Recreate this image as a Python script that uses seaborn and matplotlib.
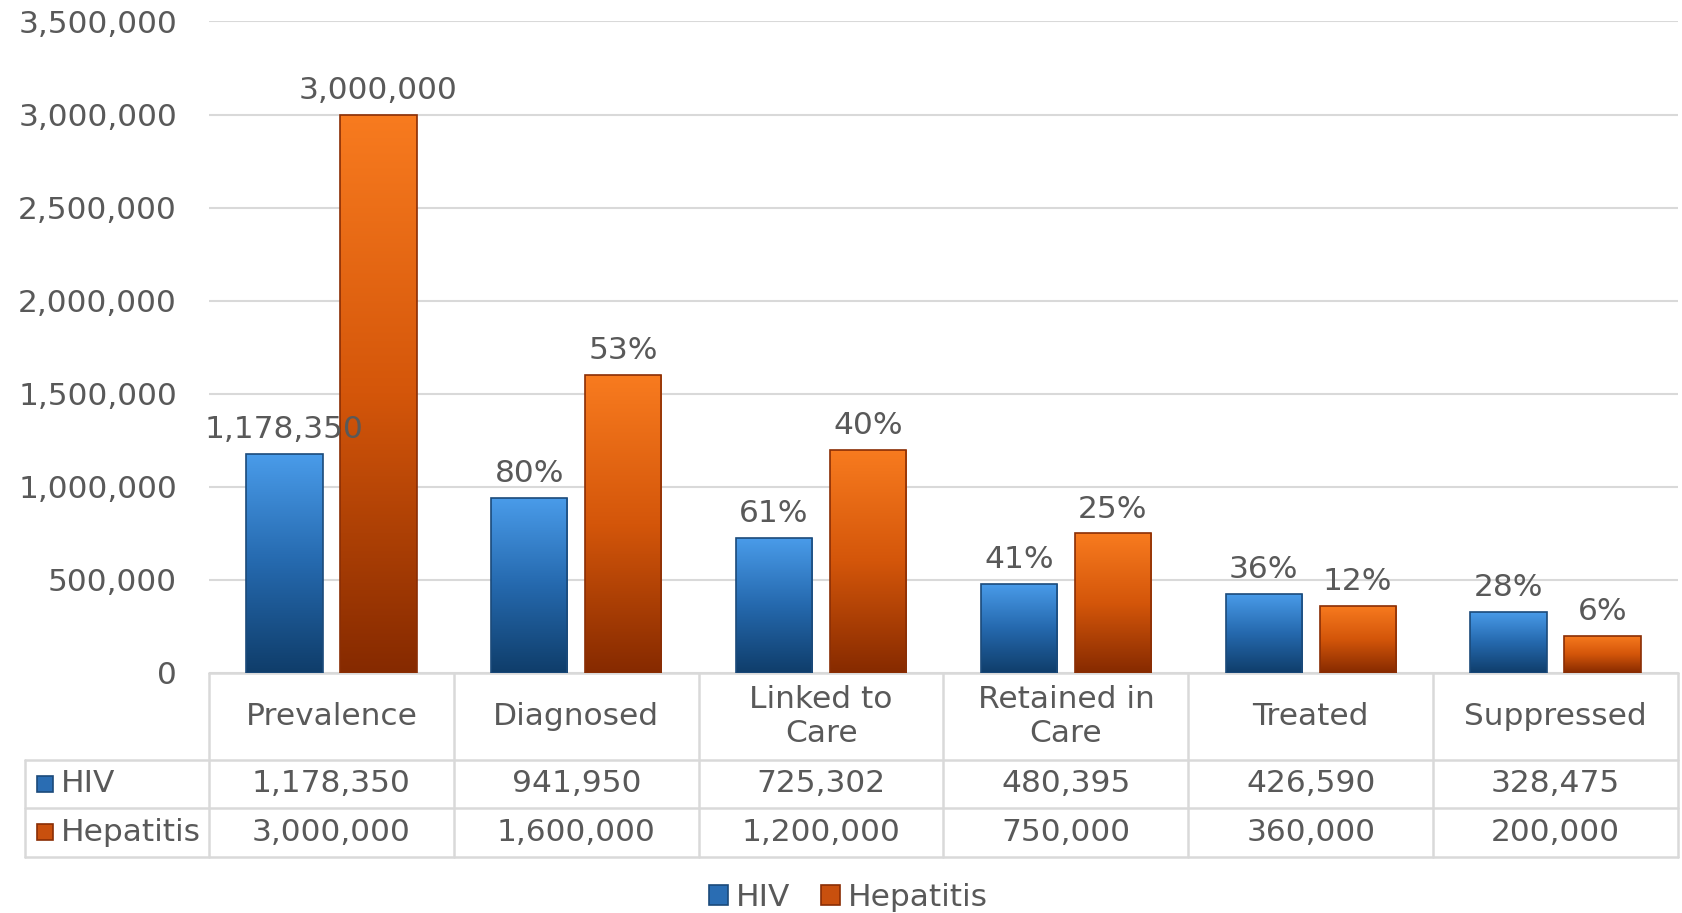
import numpy as np
import pandas as pd
import seaborn as sns
import matplotlib.pyplot as plt
from matplotlib.patches import Patch, Rectangle
from matplotlib.colors import LinearSegmentedColormap
from matplotlib.transforms import blended_transform_factory

# Data
stages = ["Prevalence", "Diagnosed", "Linked to\nCare", "Retained in\nCare", "Treated", "Suppressed"]
hiv = [1178350, 941950, 725302, 480395, 426590, 328475]
hepatitis = [3000000, 1600000, 1200000, 750000, 360000, 200000]
hiv_labels = ["1,178,350", "80%", "61%", "41%", "36%", "28%"]
hep_labels = ["3,000,000", "53%", "40%", "25%", "12%", "6%"]
series = ["HIV", "Hepatitis"]

df = pd.DataFrame({
    "stage": stages * 2,
    "count": hiv + hepatitis,
    "series": ["HIV"] * len(stages) + ["Hepatitis"] * len(stages),
})

sns.set_style("white")
plt.rcParams["font.family"] = ["DejaVu Sans"]
text_color = "#595959"
grid_color = "#d9d9d9"
fs = 22.5

mid_colors = ["#2a6db3", "#c9500e"]
edge_colors = ["#1b4a7a", "#8a2e05"]
cmaps = [
    LinearSegmentedColormap.from_list("blue", ["#0f3d6a", "#2569ae", "#4a9cea"]),
    LinearSegmentedColormap.from_list("orange", ["#862a00", "#d4560a", "#f87b1f"]),
]

fig = plt.figure(figsize=(16.83, 9.13), dpi=100)
ax = fig.add_axes([0.1242, 0.2629, 0.8728, 0.7136])

sns.barplot(data=df, x="stage", y="count", hue="series", palette=mid_colors,
            width=0.768, gap=0.19, ax=ax, legend=False, linewidth=0)

# gradient fill for each bar
grad = np.linspace(0, 1, 256).reshape(-1, 1)
for cont, cmap, ec, labels in zip(ax.containers, cmaps, edge_colors, [hiv_labels, hep_labels]):
    for bar, lab in zip(cont, labels):
        x0, w, h = bar.get_x(), bar.get_width(), bar.get_height()
        im = ax.imshow(grad, extent=[x0, x0 + w, 0, h], origin="lower",
                       aspect="auto", cmap=cmap, zorder=3)
        im.set_clip_path(bar)
        ax.add_patch(Rectangle((x0, 0), w, h, fill=False, edgecolor=ec, lw=1.2, zorder=4))
        ax.annotate(lab, (x0 + w / 2, h), xytext=(0, 7), textcoords="offset points",
                    ha="center", va="bottom", fontsize=fs, color=text_color, zorder=5)

ax.set_xlim(-0.5, 5.5)
ax.set_ylim(0, 3500000)
ax.set_yticks(np.arange(0, 3500001, 500000))
ax.set_yticklabels([f"{v:,}" for v in range(0, 3500001, 500000)])
ax.set_xticks([])
ax.set_xlabel("")
ax.set_ylabel("")
ax.tick_params(axis="y", length=0, pad=23, labelsize=fs, labelcolor=text_color)
ax.yaxis.grid(True, color=grid_color, lw=1.5)
ax.set_axisbelow(True)
for s in ax.spines.values():
    s.set_visible(False)

# data table under the plot
tr = blended_transform_factory(ax.transData, ax.transAxes)
y_rows = [0, -0.1335, -0.207, -0.2817]
x_left = -1.252
line_kw = dict(color=grid_color, lw=1.8, transform=tr, clip_on=False, zorder=2)
ax.plot([-0.5, 5.5], [0, 0], **line_kw)
for y in y_rows[1:]:
    ax.plot([x_left, 5.5], [y, y], **line_kw)
for xb in np.arange(-0.5, 6.0, 1.0):
    ax.plot([xb, xb], [0, y_rows[-1]], **line_kw)
ax.plot([x_left, x_left], [y_rows[1], y_rows[-1]], **line_kw)

for i, st in enumerate(stages):
    ax.text(i, (y_rows[0] + y_rows[1]) / 2, st, transform=tr, ha="center", va="center",
            fontsize=fs, color=text_color, linespacing=1.25)
    ax.text(i, (y_rows[1] + y_rows[2]) / 2, f"{hiv[i]:,}", transform=tr, ha="center",
            va="center", fontsize=fs, color=text_color)
    ax.text(i, (y_rows[2] + y_rows[3]) / 2, f"{hepatitis[i]:,}", transform=tr, ha="center",
            va="center", fontsize=fs, color=text_color)

for k, (name, c, ec) in enumerate(zip(series, mid_colors, edge_colors)):
    yc = (y_rows[k + 1] + y_rows[k + 2]) / 2
    ax.plot([-1.172], [yc], marker="s", ms=12, color=c, mec=ec, mew=1.2,
            transform=tr, clip_on=False)
    ax.text(-1.105, yc, name, transform=tr, ha="left", va="center",
            fontsize=fs, color=text_color)

# legend
handles = [Patch(facecolor=c, edgecolor=ec, lw=1.2) for c, ec in zip(mid_colors, edge_colors)]
fig.legend(handles, series, loc="center", bbox_to_anchor=(0.504, 0.017), ncol=2,
           frameon=False, fontsize=fs, labelcolor=text_color, handlelength=0.6,
           handleheight=0.6, handletextpad=0.25, columnspacing=1.0)

fig.savefig("out.png", dpi=100)
